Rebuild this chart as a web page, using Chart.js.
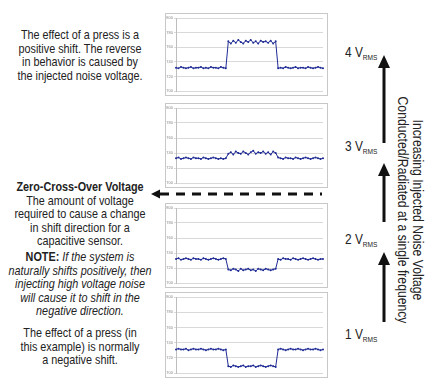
<!DOCTYPE html>
<html>
<head>
<meta charset="utf-8">
<script src="https://cdn.jsdelivr.net/npm/chart.js@4.4.1/dist/chart.umd.min.js"></script>
<style>
    html, body { margin: 0; padding: 0; background: #fff; }
    body { width: 446px; height: 380px; position: relative; overflow: hidden;
           font-family: 'Liberation Sans', Arial, sans-serif; color: #222; }
    /* no narrow face installed: squeeze Liberation Sans horizontally */
    .note { position: absolute; left: -20px; width: 200px; text-align: center; font-size: 13.2px; line-height: 13.6px;
            transform: scaleX(0.82); transform-origin: 50% 0; white-space: nowrap; }
    .panel { position: absolute; left: 165px; width: 161px; border: 1px solid #c8c8c8; background: #fff; }
    .panel canvas { display: block; }
    .vrms { position: absolute; left: 345px; font-size: 14.5px; transform: scaleX(0.82); transform-origin: 0 0; white-space: nowrap; }
    .vrms sub { font-size: 8px; vertical-align: -3px; }
    .side { position: absolute; width: 300px; text-align: center; font-size: 14.5px; line-height: 15px; white-space: nowrap;
            transform: rotate(90deg) scaleX(0.84); transform-origin: 50% 50%; }
</style>
</head>
<body>

<div class="note" style="top:28px">The effect of a press is a<br>positive shift. The reverse<br>in behavior is caused by<br>the injected noise voltage.</div>
<div class="note" style="top:180px"><b>Zero-Cross-Over Voltage</b><br>The amount of voltage<br>required to cause a change<br>in shift direction for a<br>capacitive sensor.</div>
<div class="note" style="top:250px"><b>NOTE:</b> <i>If the system is<br>naturally shifts positively, then<br>injecting high voltage noise<br>will cause it to shift in the<br>negative direction.</i></div>
<div class="note" style="top:326px">The effect of a press (in<br>this example) is normally<br>a negative shift.</div>

<div class="panel" style="top:13px"><canvas id="chart-4v" width="161" height="81"></canvas></div>
<div class="panel" style="top:103px"><canvas id="chart-3v" width="161" height="83"></canvas></div>
<div class="panel" style="top:203px"><canvas id="chart-2v" width="161" height="83"></canvas></div>
<div class="panel" style="top:292px"><canvas id="chart-1v" width="161" height="84"></canvas></div>

<div class="vrms" style="top:44px">4 V<sub>RMS</sub></div>
<div class="vrms" style="top:138px">3 V<sub>RMS</sub></div>
<div class="vrms" style="top:231px">2 V<sub>RMS</sub></div>
<div class="vrms" style="top:326px">1 V<sub>RMS</sub></div>

<div class="side" style="left:260px; top:195px">Increasing Injected Noise Voltage<br>Conducted/Radiated at a single frequency</div>

<svg width="446" height="380" style="position:absolute; left:0; top:0; pointer-events:none">
    <line x1="160" y1="194" x2="322" y2="194" stroke="#111" stroke-width="3" stroke-dasharray="9 7"/>
    <polygon points="151,194 160,189.5 160,198.5" fill="#111"/>
    <line x1="384" y1="66" x2="384" y2="143" stroke="#111" stroke-width="3"/>
    <polygon points="384,55 378,68 390,68" fill="#111"/>
    <line x1="384" y1="174" x2="384" y2="222" stroke="#111" stroke-width="3"/>
    <polygon points="384,163 378,176 390,176" fill="#111"/>
    <line x1="384" y1="263" x2="384" y2="322" stroke="#111" stroke-width="3"/>
    <polygon points="384,252 378,265 390,265" fill="#111"/>
</svg>

<script>
    // ------------------------------------------------------
    // @Data (sensor counts, one sample per point)
    // ------------------------------------------------------

    const yTickValues = [2700, 2710, 2720, 2730, 2740, 2750, 2760, 2770, 2780, 2790, 2800];

    const counts4V = [
        2732, 2731, 2733, 2732, 2731, 2732, 2733, 2731, 2732, 2732, 2733, 2731, 2732, 2731, 2733, 2732, 2732, 2731, 2733, 2732, 2731,
        2768, 2765, 2769, 2766, 2770, 2767, 2765, 2769, 2767, 2770, 2766, 2768, 2765, 2769, 2767, 2768, 2766, 2769, 2765, 2768,
        2731, 2732, 2731, 2733, 2732, 2731, 2732, 2733, 2731, 2732, 2732, 2731, 2733, 2732, 2731, 2732, 2733, 2732, 2731,
    ];

    const counts3V = [
        2733, 2734, 2732, 2733, 2734, 2733, 2732, 2734, 2733, 2733, 2732, 2734, 2733, 2732, 2733, 2734, 2733, 2732, 2733, 2732, 2733,
        2739, 2741, 2738, 2742, 2740, 2739, 2742, 2740, 2738, 2741, 2743, 2739, 2741, 2740, 2742, 2739, 2741, 2738, 2742, 2740,
        2734, 2733, 2732, 2734, 2733, 2733, 2732, 2734, 2733, 2732, 2733, 2734, 2733, 2732, 2733, 2734, 2733, 2732, 2733,
    ];

    const counts2V = [
        2732, 2733, 2731, 2732, 2733, 2732, 2731, 2733, 2732, 2732, 2731, 2733, 2732, 2731, 2732, 2733, 2732, 2731, 2732, 2733, 2732,
        2718, 2717, 2719, 2718, 2716, 2719, 2717, 2718, 2719, 2717, 2718, 2716, 2719, 2718, 2717, 2719, 2718, 2717, 2718, 2719,
        2732, 2731, 2733, 2732, 2732, 2731, 2733, 2732, 2731, 2732, 2733, 2732, 2731, 2732, 2733, 2732, 2731, 2732, 2732,
    ];

    const counts1V = [
        2731, 2732, 2731, 2731, 2732, 2730, 2731, 2732, 2731, 2731, 2732, 2731, 2730, 2731, 2732, 2731, 2731, 2732, 2731, 2730, 2731,
        2709, 2708, 2710, 2709, 2708, 2709, 2710, 2708, 2709, 2709, 2710, 2708, 2709, 2710, 2709, 2708, 2709, 2710, 2709, 2708,
        2731, 2732, 2731, 2730, 2731, 2732, 2731, 2731, 2732, 2731, 2730, 2731, 2732, 2731, 2731, 2732, 2731, 2730, 2731,
    ];

    const TRACE_COLOR = '#1f2b94';

    function drawPanel(id, values) {
        const box = document.getElementById(id);
        if (!box) return;

        new Chart(box.getContext('2d'), {
            type: 'line',
            data: {
                labels: values.map((_, i) => i),
                datasets: [{
                    data            : values,
                    borderColor     : TRACE_COLOR,
                    backgroundColor : TRACE_COLOR,
                    borderWidth     : 1,
                    pointRadius     : 1,
                    pointBorderWidth: 0,
                    tension         : 0,
                }],
            },
            options: {
                responsive: false,
                animation: false,
                devicePixelRatio: 1,
                layout: { padding: { top: 2, right: 1, bottom: 1, left: 0 } },
                plugins: { legend: { display: false }, tooltip: { enabled: false } },
                scales: {
                    x: { display: false },
                    y: {
                        min: yTickValues[0],
                        max: yTickValues[yTickValues.length - 1],
                        afterBuildTicks: (scale) => { scale.ticks = yTickValues.map(v => ({ value: v })); },
                        afterFit: (scale) => { scale.width = 10; },
                        ticks: {
                            font: { size: 4, family: 'Liberation Sans' },
                            color: '#888',
                            padding: 1,
                            callback: (v) => String(v),
                        },
                        grid: { color: '#d9d9d9', lineWidth: 1, tickLength: 2 },
                        border: { color: '#bdbdbd' },
                    },
                },
            },
        });
    }

    drawPanel('chart-4v', counts4V);
    drawPanel('chart-3v', counts3V);
    drawPanel('chart-2v', counts2V);
    drawPanel('chart-1v', counts1V);
</script>
</body>
</html>
